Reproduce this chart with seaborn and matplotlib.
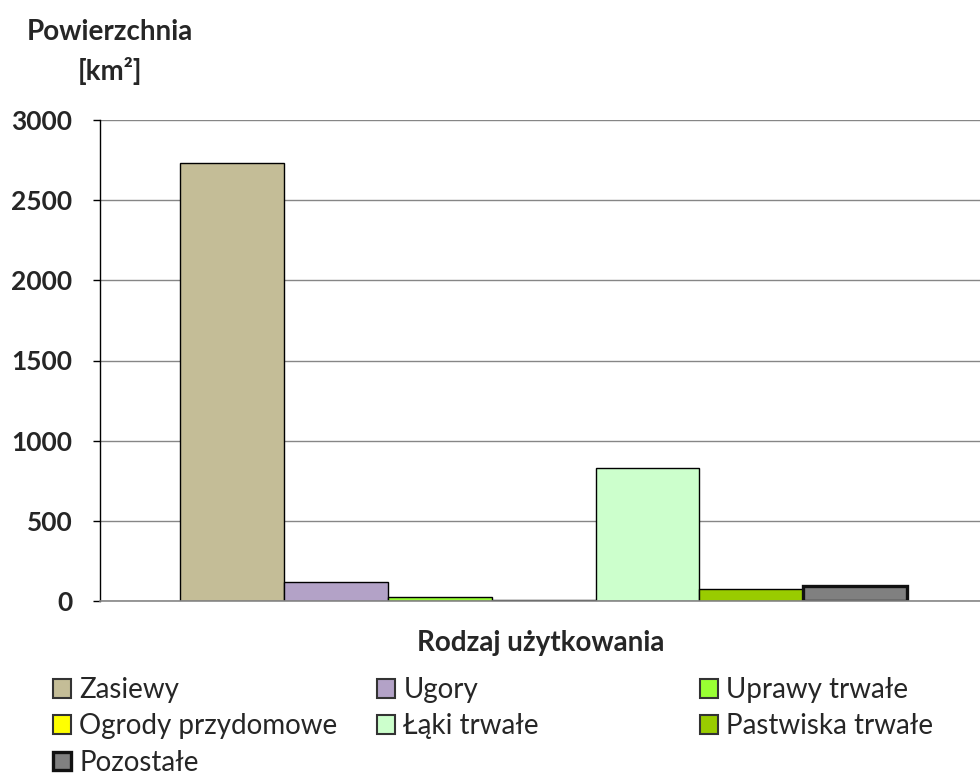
import pandas as pd
import numpy as np
import matplotlib
matplotlib.use('Agg')
import matplotlib.pyplot as plt
from matplotlib.patches import Patch
import seaborn as sns

# Dane
rodzaje = ['Zasiewy', 'Ugory', 'Uprawy trwałe', 'Ogrody przydomowe',
           'Łąki trwałe', 'Pastwiska trwałe', 'Pozostałe']
powierzchnia = [2730, 118, 28, 5, 828, 76, 93]
kolory = ['#C4BD97', '#B3A2C7', '#99FF33', '#FFFF00',
          '#CCFFCC', '#99CC00', '#808080']
yticks = [0, 500, 1000, 1500, 2000, 2500, 3000]

df = pd.DataFrame({'grupa': ['x'] * len(rodzaje),
                   'rodzaj': rodzaje,
                   'wartosc': powierzchnia})

sns.set_theme(style='white')
plt.rcParams['font.family'] = ['Lato', 'DejaVu Sans']
FS = 20

fig = plt.figure(figsize=(9.8, 7.75), dpi=100)
ax = fig.add_axes([100 / 980, 1 - 601 / 775, 880 / 980, (601 - 120) / 775])

sns.barplot(data=df, x='grupa', y='wartosc', hue='rodzaj', hue_order=rodzaje,
            palette=kolory, width=0.827, edgecolor='black', linewidth=1.0,
            saturation=1, ax=ax)
ax.get_legend().remove()

# grubsza ramka dla "Pozostałe"
for p in ax.containers[-1]:
    p.set_linewidth(2.4)
    p.set_edgecolor('#111111')

ax.set_ylim(0, 3000)
ax.set_xlim(-0.504, 0.496)
ax.set_yticks(yticks)
ax.set_yticklabels([str(t) for t in yticks], fontsize=19, fontweight='bold')
ax.set_xticks([])
ax.set_xlabel('')
ax.set_ylabel('')
ax.yaxis.grid(True, color='#868686', linewidth=1.0)
ax.set_axisbelow(True)
ax.tick_params(axis='y', left=True, length=5, width=1, color='black', pad=15)
for s in ['top', 'right']:
    ax.spines[s].set_visible(False)
ax.spines['left'].set_color('black')
ax.spines['left'].set_linewidth(1.0)
ax.spines['bottom'].set_color('#868686')
ax.spines['bottom'].set_linewidth(1.2)

fig.text(110 / 980, 1 - 32 / 775, 'Powierzchnia', ha='center', va='center',
         fontsize=FS, fontweight='bold')
fig.text(110 / 980, 1 - 71 / 775, '[km²]', ha='center', va='center',
         fontsize=FS, fontweight='bold')
fig.text(541 / 980, 1 - 643 / 775, 'Rodzaj użytkowania', ha='center',
         va='center', fontsize=FS, fontweight='bold')

# legenda - trzy kolumny
uchwyty = [Patch(facecolor=c, edgecolor='#333333', linewidth=1.5) for c in kolory]
uchwyty[-1].set_linewidth(2.4)
uchwyty[-1].set_edgecolor('#111111')
kolumny = [([0, 3, 6], 53), ([1, 4], 377), ([2, 5], 700)]
for idx, x0 in kolumny:
    fig.legend([uchwyty[i] for i in idx], [rodzaje[i] for i in idx],
               loc='upper left', bbox_to_anchor=(x0 / 980, 1 - 677 / 775),
               frameon=False, fontsize=FS, borderpad=0, borderaxespad=0,
               handlelength=0.65, handleheight=0.65, handletextpad=0.3,
               labelspacing=0.37)

fig.savefig('out.png', dpi=100)
